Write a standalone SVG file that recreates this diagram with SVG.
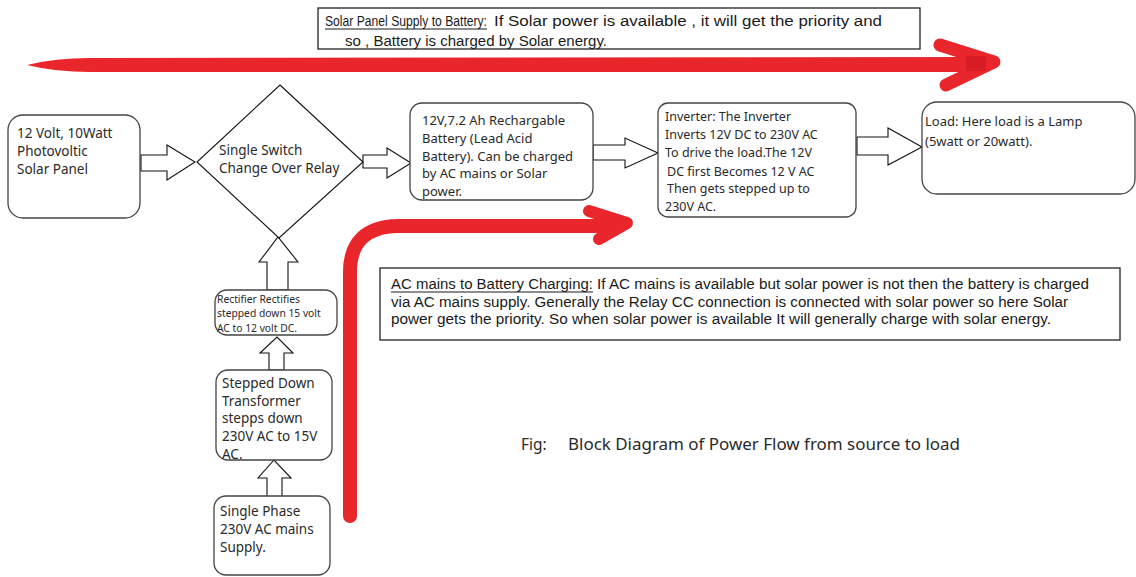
<svg xmlns="http://www.w3.org/2000/svg" width="1136" height="577" viewBox="0 0 1136 577">
<style>
.box{fill:#fff;stroke:#444;stroke-width:1.3}
.note{fill:#fff;stroke:#222;stroke-width:1.3}
.blk{fill:#fff;stroke:#111;stroke-width:1.1;stroke-linejoin:miter}
.t{font-family:"Noto Sans","Open Sans",sans-serif;font-size:13px;fill:#2a2a2a}
.s135{font-size:13.5px}
.s125{font-size:12.5px}
.s10{font-size:10.3px}
.s15{font-size:15.5px}
.n{font-family:"Liberation Sans",Arial,sans-serif;font-size:14px;fill:#1a1a1a}
.red{fill:none;stroke:#e8262c;stroke-linecap:round;stroke-linejoin:round}
</style>
<rect width="1136" height="577" fill="#fff"/>

<g id="solar-note">
<rect class="note" x="318" y="8" width="602" height="41"/>
<text class="n" x="325" y="26" textLength="162" lengthAdjust="spacingAndGlyphs">Solar Panel Supply to Battery:</text>
<line x1="325" y1="29" x2="487" y2="29" stroke="#1a1a1a" stroke-width="1"/>
<text class="n" x="494" y="26" textLength="388" lengthAdjust="spacingAndGlyphs">If Solar power is available , it will get the priority and</text>
<text class="n" x="345" y="46" textLength="262" lengthAdjust="spacingAndGlyphs">so  , Battery is charged by Solar energy.</text>
</g>

<g id="connectors">
<!-- red top flow arrow -->
<path d="M27,65 Q55,58 90,58 L978,57 L978,72 L90,72 Q55,72 27,65 Z" fill="#e8262c"/>
<path class="red" d="M940,45 L994,62 L946,85" stroke-width="13"/>
<rect x="966" y="56" width="20" height="15" fill="#d81d24"/>
<!-- red AC flow arrow -->
<path class="red" d="M350,516 L350,272 Q350,227 398,226 L612,226" stroke-width="14"/>
<path class="red" d="M589,211 L627,223 L599,239" stroke-width="12"/>
<!-- block arrows -->
<polygon class="blk" points="141,155 167,155 167,145 195,162 167,180 167,171 141,171"/>
<polygon class="blk" points="363,155 387,155 387,148 411,163 387,178 387,168 363,168"/>
<polygon class="blk" points="593,145 625,145 625,138 658,153 625,168 625,160 593,160"/>
<polygon class="blk" points="857,137 888,137 888,128 922,147 888,165 888,155 857,155"/>
<polygon class="blk" points="267,290 267,262 259,262 278,237 298,262 288,262 288,290"/>
<polygon class="blk" points="269,370 269,353 260,353 277,337 293,353 284,353 284,370"/>
<polygon class="blk" points="267,497 267,478 258,478 274,460 291,478 282,478 282,497"/>
</g>

<g id="solar-panel">
<rect class="box" x="8" y="115" width="132" height="103" rx="15"/>
<text class="t s135" x="17" y="138">12 Volt, 10Watt</text>
<text class="t s135" x="17" y="156">Photovoltic</text>
<text class="t s135" x="17" y="174">Solar Panel</text>
</g>

<g id="relay">
<polygon class="blk" points="280,85 363,162 279,238 197,162" stroke="#333"/>
<text class="t s135" x="219" y="155">Single Switch</text>
<text class="t s135" x="219" y="173">Change Over Relay</text>
</g>

<g id="battery">
<rect class="box" x="410" y="103" width="183" height="97" rx="12"/>
<text class="t" x="422" y="125">12V,7.2 Ah Rechargable</text>
<text class="t" x="422" y="143">Battery (Lead Acid</text>
<text class="t" x="422" y="161">Battery). Can be charged</text>
<text class="t" x="422" y="178">by AC mains or Solar</text>
<text class="t" x="422" y="196">power.</text>
</g>

<g id="inverter">
<rect class="box" x="658" y="103" width="198" height="114" rx="10"/>
<text class="t s125" x="665" y="121">Inverter: The Inverter</text>
<text class="t s125" x="665" y="139">Inverts 12V DC to 230V AC</text>
<text class="t s125" x="665" y="157">To drive the load.The 12V</text>
<text class="t s125" x="667" y="176">DC first Becomes 12 V AC</text>
<text class="t s125" x="667" y="193">Then gets stepped up to</text>
<text class="t s125" x="665" y="211">230V AC.</text>
</g>

<g id="load">
<rect class="box" x="922" y="102" width="213" height="92" rx="15"/>
<text class="t" x="925" y="126">Load: Here load is a Lamp</text>
<text class="t" x="925" y="146">(5watt or 20watt).</text>
</g>

<g id="rectifier">
<rect class="box" x="215" y="290" width="122" height="45" rx="12"/>
<text class="t s10" x="217" y="302.5">Rectifier Rectifies</text>
<text class="t s10" x="217" y="316.5">stepped down 15 volt</text>
<text class="t s10" x="217" y="331.5">AC to 12 volt DC.</text>
</g>

<g id="transformer">
<rect class="box" x="216" y="370" width="116" height="90" rx="12"/>
<text class="t s135" x="222" y="388">Stepped Down</text>
<text class="t s135" x="222" y="406">Transformer</text>
<text class="t s135" x="222" y="423">stepps down</text>
<text class="t s135" x="222" y="441">230V AC to 15V</text>
<text class="t s135" x="222" y="459">AC.</text>
</g>

<g id="mains">
<rect class="box" x="214" y="496" width="116" height="79" rx="12"/>
<text class="t s135" x="220" y="516">Single Phase</text>
<text class="t s135" x="220" y="534">230V AC mains</text>
<text class="t s135" x="220" y="552">Supply.</text>
</g>

<g id="ac-note">
<rect class="note" x="380" y="268" width="740" height="72"/>
<text class="n" x="391" y="289" textLength="202" lengthAdjust="spacingAndGlyphs">AC mains to Battery Charging:</text>
<line x1="391" y1="292" x2="593" y2="292" stroke="#1a1a1a" stroke-width="1"/>
<text class="n" x="597" y="289" textLength="492" lengthAdjust="spacingAndGlyphs">If AC mains is available but solar power is not then the battery is charged</text>
<text class="n" x="391" y="307" textLength="677" lengthAdjust="spacingAndGlyphs">via AC mains supply. Generally the Relay CC connection is connected with solar power    so here Solar</text>
<text class="n" x="391" y="324" textLength="660" lengthAdjust="spacingAndGlyphs">power gets the priority. So when solar power is available It will generally charge with solar energy.</text>
</g>

<g id="caption">
<text class="t s15" x="521" y="450">Fig:</text>
<text class="t s15" x="568" y="450" textLength="392" lengthAdjust="spacingAndGlyphs">Block Diagram of Power Flow from source to load</text>
</g>
</svg>
